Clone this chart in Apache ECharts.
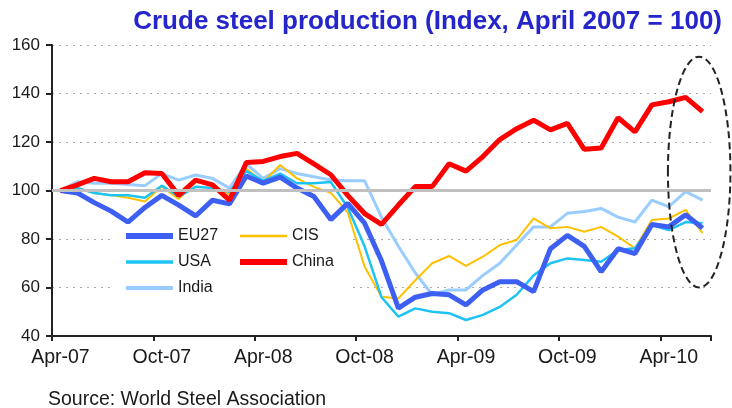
<!DOCTYPE html>
<html>
<head>
<meta charset="utf-8">
<script src="https://cdn.jsdelivr.net/npm/echarts@6/dist/echarts.min.js"></script>
<style>
  html, body { margin: 0; padding: 0; background: #fff; }
  #chart { width: 732px; height: 408px; }
</style>
</head>
<body>
<div id="chart"></div>
<script>
// months Apr-07 .. Jun-10
var months = ['Apr-07', 'May-07', 'Jun-07', 'Jul-07', 'Aug-07', 'Sep-07', 'Oct-07', 'Nov-07', 'Dec-07',
  'Jan-08', 'Feb-08', 'Mar-08', 'Apr-08', 'May-08', 'Jun-08', 'Jul-08', 'Aug-08', 'Sep-08', 'Oct-08',
  'Nov-08', 'Dec-08', 'Jan-09', 'Feb-09', 'Mar-09', 'Apr-09', 'May-09', 'Jun-09', 'Jul-09', 'Aug-09',
  'Sep-09', 'Oct-09', 'Nov-09', 'Dec-09', 'Jan-10', 'Feb-10', 'Mar-10', 'Apr-10', 'May-10', 'Jun-10']

var eu27 = [100, 99, 95, 91.5, 87, 93, 98, 94, 89.5, 96, 94.5, 106, 103, 105.5, 101, 97.5, 88, 94.7, 86.5, 71,
  51.5, 56, 57.5, 57, 52.8, 59, 62.4, 62.4, 58.3, 76, 81.5, 77, 66.5, 76, 74, 86, 85, 90, 84.5]
var usa = [100, 101, 99, 98, 98, 97, 102, 97.5, 101.5, 101, 99.5, 108, 104, 107, 103, 103, 103.5, 93, 77, 56,
  48, 51.4, 50, 49.4, 46.6, 48.7, 52, 57, 65, 70, 72, 71.3, 70.6, 75.5, 76.2, 85.8, 83.7, 87, 86.5]
var india = [100, 103.6, 103, 103, 102.5, 102, 107, 104.3, 106.4, 105, 101, 111, 105, 109, 107, 105.7, 104.3, 104, 104, 89,
  77, 66, 57, 59, 59, 65, 70, 77.5, 85, 85, 90.6, 91.3, 92.6, 89, 87, 96, 93.3, 99.5, 96]
var cis = [100, 101, 99, 98, 97, 95.5, 101.6, 96.5, 103.6, 102, 98.5, 109, 103.5, 110.5, 105, 101.5, 99, 91, 68.6, 56.2,
  55.5, 63, 70, 73, 68.9, 72.7, 77.5, 79.6, 88.5, 84.4, 85, 83, 85, 81, 76.2, 87.8, 88.5, 92, 82.4]
var china = [100, 102.3, 105, 103.6, 103.6, 107.3, 107, 98, 104.3, 102.3, 96, 111.5, 112, 114, 115.3, 111, 106.5, 98, 90.5, 86,
  94, 101.6, 101.6, 111, 108, 114, 121, 125.5, 129, 125, 127.7, 117, 117.5, 130, 124.2, 135.3, 136.6, 138.4, 132.5]

var yTicks = { min: 40, max: 160, step: 20 }
var baseLine = 100

var chart = echarts.init(document.getElementById('chart'))

function line(name, data, color, width) {
  return {
    name: name,
    type: 'line',
    data: data,
    symbol: 'none',
    lineStyle: { color: color, width: width },
    itemStyle: { color: color },
    emphasis: { disabled: true }
  }
}

var legendText = { fontFamily: 'Liberation Sans', fontSize: 16, color: '#1a1a1a' }
var axisFont = { fontFamily: 'Liberation Sans', color: '#1a1a1a' }

chart.setOption({
  animation: false,
  title: [
    {
      text: 'Crude steel production (Index, April 2007 = 100)',
      right: 5,
      top: 4,
      textStyle: { fontFamily: 'Liberation Sans', fontSize: 26, fontWeight: 'bold', color: '#2525cc' }
    },
    {
      text: 'Source: World Steel Association',
      left: 43,
      top: 385,
      textStyle: { fontFamily: 'Liberation Sans', fontSize: 19.5, fontWeight: 'normal', color: '#1a1a1a' }
    }
  ],
  grid: { left: 52, right: 21, top: 45, bottom: 72, containLabel: false },
  legend: [
    {
      data: [
        { name: 'EU27', lineStyle: { width: 6 } },
        { name: 'USA', lineStyle: { width: 3.5 } },
        { name: 'India', lineStyle: { width: 4 } }
      ],
      orient: 'vertical',
      left: 113,
      top: 224,
      padding: [4, 132, 8, 10],
      itemWidth: 47,
      itemHeight: 14,
      itemGap: 10,
      itemStyle: { opacity: 0 },
      backgroundColor: '#fff',
      textStyle: legendText
    },
    {
      data: [
        { name: 'CIS', lineStyle: { width: 2.5 } },
        { name: 'China', lineStyle: { width: 6 } }
      ],
      orient: 'vertical',
      left: 227,
      top: 224,
      padding: [4, 10, 8, 10],
      itemWidth: 47,
      itemHeight: 14,
      itemGap: 10,
      itemStyle: { opacity: 0 },
      textStyle: legendText
    }
  ],
  xAxis: {
    type: 'category',
    data: months,
    boundaryGap: true,
    axisLine: { lineStyle: { color: '#222', width: 2 } },
    axisTick: { show: true, interval: 5, length: 5, lineStyle: { color: '#222', width: 2 } },
    axisLabel: Object.assign({ interval: 5, margin: 12, fontSize: 19.5 }, axisFont),
    splitLine: { show: false }
  },
  yAxis: {
    type: 'value',
    min: yTicks.min,
    max: yTicks.max,
    interval: yTicks.step,
    axisLine: { show: true, lineStyle: { color: '#222', width: 2 } },
    axisTick: { show: true, length: 6, lineStyle: { color: '#222', width: 2 } },
    axisLabel: Object.assign({ margin: 12, fontSize: 17 }, axisFont),
    splitLine: { show: true, lineStyle: { color: '#aaa', width: 1, type: [2, 5] } }
  },
  series: [
    line('India', india, '#99ccff', 3),
    line('CIS', cis, '#ffc000', 2),
    line('USA', usa, '#1ec3f3', 2.5),
    line('EU27', eu27, '#3d5ff2', 5),
    Object.assign(line('China', china, '#ff0000', 5), {
      markLine: {
        silent: true,
        symbol: 'none',
        label: { show: false },
        lineStyle: { color: '#c0c0c0', width: 3, type: 'solid' },
        data: [{ yAxis: baseLine }]
      }
    })
  ]
})

// dashed ellipse round the last months
var p37 = chart.convertToPixel({ gridIndex: 0 }, [37, 107.6])
var p38 = chart.convertToPixel({ gridIndex: 0 }, [38, 60])
var step = p38[0] - p37[0]
chart.setOption({
  graphic: [{
    type: 'ellipse',
    z: 10,
    shape: { cx: p37[0] + 0.8 * step, cy: p37[1], rx: 1.85 * step, ry: p38[1] - p37[1] },
    style: { fill: 'none', stroke: '#222', lineWidth: 2, lineDash: [7, 4] }
  }]
})
</script>
</body>
</html>
